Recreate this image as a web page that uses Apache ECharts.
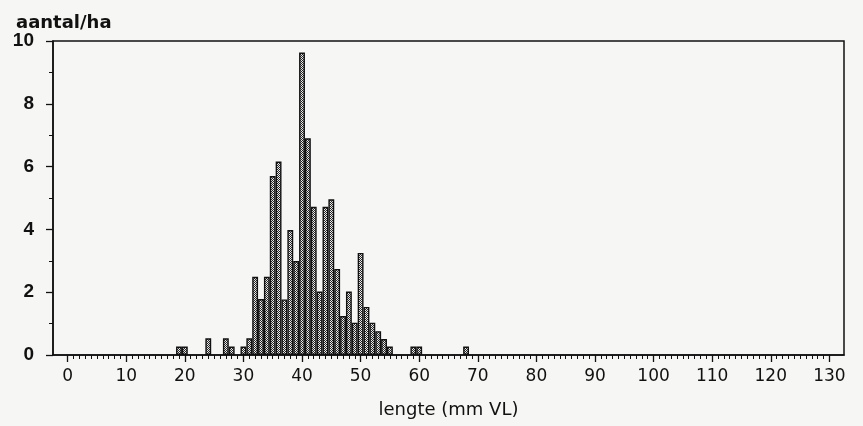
<!DOCTYPE html>
<html>
<head>
<meta charset="utf-8">
<script src="https://cdn.jsdelivr.net/npm/echarts@6/dist/echarts.min.js"></script>
<style>
html,body{margin:0;padding:0;background:#f6f6f4;}
#chart{width:863px;height:426px;}
</style>
</head>
<body>
<div id="chart"></div>
<script>
// Length classes (mm VL) that have a bar, and their values (aantal/ha)
var lengths = [19, 20, 24, 27, 28, 30, 31, 32, 33, 34, 35, 36, 37, 38, 39, 40, 41, 42, 43, 44, 45, 46, 47, 48, 49, 50, 51, 52, 53, 54, 55, 59, 60, 68];
var values  = [0.27, 0.27, 0.53, 0.53, 0.27, 0.27, 0.53, 2.49, 1.78, 2.49, 5.70, 6.16, 1.77, 3.98, 2.99, 9.63, 6.90, 4.72, 2.02, 4.72, 4.96, 2.74, 1.24, 2.02, 1.03, 3.25, 1.53, 1.03, 0.76, 0.51, 0.27, 0.27, 0.27, 0.27];
// axis domain (categories), tick labels
var axisFirst = -2, axisLast = 132;
var xTickLabels = ['0','10','20','30','40','50','60','70','80','90','100','110','120','130'];
var yTickLabels = ['0','2','4','6','8','10'];

var categories = [];
for (var c = axisFirst; c <= axisLast; c++) categories.push(String(c));
var seriesData = categories.map(function (cat) {
  var i = lengths.indexOf(Number(cat));
  return i >= 0 ? values[i] : null;
});

// stipple pattern for the bars
var pc = document.createElement('canvas');
pc.width = 2; pc.height = 2;
var pctx = pc.getContext('2d');
pctx.fillStyle = '#ececec'; pctx.fillRect(0, 0, 2, 2);
pctx.fillStyle = '#262626';
pctx.fillRect(0, 0, 1, 1); pctx.fillRect(1, 1, 1, 1);

var chart = echarts.init(document.getElementById('chart'), null, {renderer: 'canvas'});
var inRange = function (v) { var n = Number(v); return n >= 0 && n <= 130; };
var isMajor = function (v) { return xTickLabels.indexOf(String(v)) >= 0; };

chart.setOption({
  backgroundColor: '#f6f6f4',
  animation: false,
  title: {
    text: 'aantal/ha', left: 11, top: 9,
    textStyle: {fontFamily: 'DejaVu Sans', fontSize: 18, fontWeight: 'bold', color: '#111'}
  },
  grid: {left: 53, right: 19, top: 41, bottom: 71, show: true, borderColor: '#111', borderWidth: 1.5, backgroundColor: 'transparent'},
  xAxis: [{
    type: 'category', data: categories, boundaryGap: true, position: 'bottom',
    name: 'lengte (mm VL)', nameLocation: 'middle', nameGap: 46,
    nameTextStyle: {fontFamily: 'DejaVu Sans', fontSize: 18, color: '#111'},
    axisLine: {show: true, lineStyle: {color: '#111', width: 1.5}},
    axisTick: {show: true, alignWithLabel: true, length: 7, lineStyle: {color: '#111', width: 1.3},
      interval: function (idx, v) { return isMajor(v); }},
    axisLabel: {show: true, margin: 13, fontFamily: 'DejaVu Sans', fontSize: 17, color: '#111',
      interval: function (idx, v) { return isMajor(v); }},
    splitLine: {show: false}
  }, {
    type: 'category', data: categories, boundaryGap: true, position: 'bottom', offset: 0,
    axisLine: {show: false},
    axisTick: {show: true, alignWithLabel: true, length: 4, lineStyle: {color: '#111', width: 1},
      interval: function (idx, v) { return inRange(v); }},
    axisLabel: {show: false},
    splitLine: {show: false}
  }],
  yAxis: {
    type: 'value', min: 0, max: 10, interval: 2,
    axisLine: {show: true, lineStyle: {color: '#111', width: 1.5}},
    axisTick: {show: true, length: 7, lineStyle: {color: '#111', width: 1.3}},
    minorTick: {show: true, splitNumber: 2, length: 4, lineStyle: {color: '#111', width: 1}},
    axisLabel: {margin: 19, fontFamily: 'Liberation Sans', fontSize: 19, fontWeight: 'bold', color: '#111',
      formatter: function (v) { var s = String(v); return yTickLabels.indexOf(s) >= 0 ? s : ''; }},
    splitLine: {show: false}
  },
  series: [{
    type: 'bar', xAxisIndex: 0, data: seriesData,
    barWidth: '100%', barCategoryGap: '0%',
    itemStyle: {color: {image: pc, repeat: 'repeat'}, borderColor: '#111', borderWidth: 1.4}
  }]
});
</script>
</body>
</html>
